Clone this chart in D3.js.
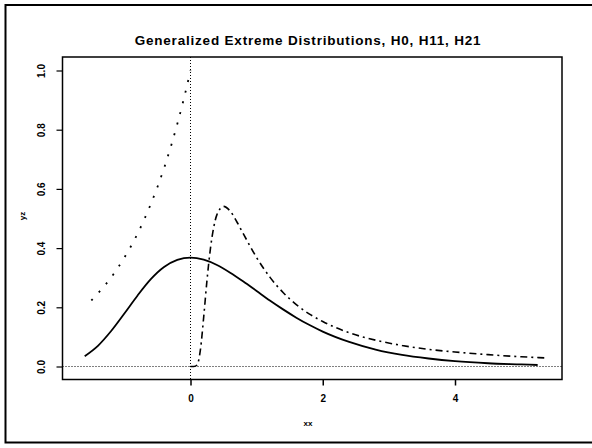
<!DOCTYPE html>
<html>
<head>
<meta charset="utf-8">
<script src="https://cdn.jsdelivr.net/npm/d3@7"></script>
<style>
  html, body { margin: 0; padding: 0; background: #fff; overflow: hidden; }
  svg { display: block; font-family: "Liberation Sans", Arial, sans-serif; }
</style>
</head>
<body>
<div id="chart"></div>
<script>
/* Generalized extreme distributions H0, H11, H21 */

// H0 (solid)
const h0X = [-1.6, -1.4, -1.2, -1.0, -0.8, -0.6, -0.4, -0.2, 0, 0.2, 0.4, 0.6, 0.8, 1.0, 1.2, 1.4, 1.6, 1.8, 2.0, 2.4, 2.8, 3.2, 3.6, 4.0, 4.5, 5.0, 5.25];
const h0Y = [0.035, 0.070, 0.120, 0.179, 0.240, 0.295, 0.336, 0.360, 0.368, 0.361, 0.343, 0.317, 0.287, 0.255, 0.223, 0.193, 0.165, 0.140, 0.118, 0.083, 0.057, 0.039, 0.027, 0.018, 0.011, 0.007, 0.005];

// H11 (dash-dot)
const h11X = [0, 0.05, 0.1, 0.15, 0.2, 0.25, 0.3, 0.35, 0.4, 0.5, 0.6, 0.7, 0.8, 1.0, 1.2, 1.4, 1.6, 1.8, 2.0, 2.4, 2.8, 3.2, 3.6, 4.0, 4.5, 5.0, 5.35];
const h11Y = [0, 0.000, 0.005, 0.057, 0.168, 0.293, 0.396, 0.469, 0.513, 0.541, 0.525, 0.489, 0.448, 0.368, 0.302, 0.250, 0.209, 0.177, 0.152, 0.114, 0.089, 0.071, 0.058, 0.049, 0.040, 0.033, 0.029];

// H21 (dotted)
const h21X = [-1.5, -1.4, -1.2, -1.0, -0.8, -0.6, -0.4, -0.2, -0.1, 0];
const h21Y = [0.223, 0.247, 0.301, 0.368, 0.449, 0.549, 0.670, 0.819, 0.905, 1.0];

const xTicks = [0, 2, 4];
const yTicks = [0.0, 0.2, 0.4, 0.6, 0.8, 1.0];

const width = 592, height = 448;
const box = { left: 62.5, right: 562, top: 57, bottom: 379.5 };

const svg = d3.select('#chart').append('svg')
  .attr('width', width)
  .attr('height', height);

// outer frame (right edge falls off the page)
svg.append('rect')
  .attr('x', 5.5).attr('y', 5)
  .attr('width', 620).attr('height', 437.5)
  .attr('fill', 'none')
  .attr('stroke', '#000')
  .attr('stroke-width', 2);

const x = d3.scaleLinear().domain([0, 4]).range([190.5, 455]);
const y = d3.scaleLinear().domain([0, 1]).range([366.5, 70.5]);

// title
svg.append('text')
  .attr('x', 308).attr('y', 45)
  .attr('text-anchor', 'middle')
  .attr('font-size', 13.5)
  .attr('font-weight', 'bold')
  .attr('letter-spacing', 0.8)
  .text('Generalized Extreme Distributions, H0, H11, H21');

// axes
const xAxis = svg.append('g')
  .attr('transform', `translate(0,${box.bottom})`)
  .call(d3.axisBottom(x).tickValues(xTicks).tickSize(6).tickPadding(9).tickFormat(d3.format('d')));
xAxis.select('.domain').remove();
xAxis.selectAll('line').attr('stroke-width', 1.5);
xAxis.selectAll('text').attr('font-size', 10).attr('font-weight', 'bold').attr('font-family', 'Liberation Sans, Arial, sans-serif');

const yAxis = svg.append('g')
  .attr('transform', `translate(${box.left},0)`)
  .call(d3.axisLeft(y).tickValues(yTicks).tickSize(6).tickFormat(d3.format('.1f')));
yAxis.select('.domain').remove();
yAxis.selectAll('line').attr('stroke-width', 1.2);
yAxis.selectAll('text')
  .attr('font-size', 10)
  .attr('font-weight', 'bold')
  .attr('font-family', 'Liberation Sans, Arial, sans-serif')
  .attr('text-anchor', 'middle')
  .attr('x', 0).attr('dy', 0)
  .attr('transform', 'translate(-21,0) rotate(-90)')
  .attr('dominant-baseline', 'central');

// axis labels
svg.append('text')
  .attr('x', 308).attr('y', 426)
  .attr('text-anchor', 'middle')
  .attr('font-size', 8)
  .attr('font-weight', 'bold')
  .text('xx');

svg.append('text')
  .attr('transform', 'translate(25,216) rotate(-90)')
  .attr('text-anchor', 'middle')
  .attr('font-size', 8)
  .attr('font-weight', 'bold')
  .text('yz');

// reference lines
svg.append('line')
  .attr('x1', box.left).attr('x2', box.right)
  .attr('y1', y(0)).attr('y2', y(0))
  .attr('stroke', '#000').attr('stroke-width', 1)
  .attr('stroke-dasharray', '1,2');

svg.append('line')
  .attr('x1', x(0)).attr('x2', x(0))
  .attr('y1', box.top).attr('y2', box.bottom)
  .attr('stroke', '#000').attr('stroke-width', 1)
  .attr('stroke-dasharray', '1,2');

// curves
const line = d3.line()
  .x(d => x(d[0]))
  .y(d => y(d[1]))
  .curve(d3.curveMonotoneX);

svg.append('path')
  .datum(d3.zip(h0X, h0Y))
  .attr('d', line)
  .attr('fill', 'none')
  .attr('stroke', '#000')
  .attr('stroke-width', 1.8);

svg.append('path')
  .datum(d3.zip(h11X, h11Y))
  .attr('d', line)
  .attr('fill', 'none')
  .attr('stroke', '#000')
  .attr('stroke-width', 1.6)
  .attr('stroke-dasharray', '7,4,2,4');

svg.append('path')
  .datum(d3.zip(h21X, h21Y))
  .attr('d', line)
  .attr('fill', 'none')
  .attr('stroke', '#000')
  .attr('stroke-width', 1.8)
  .attr('stroke-dasharray', '2,9');

// plot box
svg.append('rect')
  .attr('x', box.left).attr('y', box.top)
  .attr('width', box.right - box.left)
  .attr('height', box.bottom - box.top)
  .attr('fill', 'none')
  .attr('stroke', '#000')
  .attr('stroke-width', 1.5);
</script>
</body>
</html>
